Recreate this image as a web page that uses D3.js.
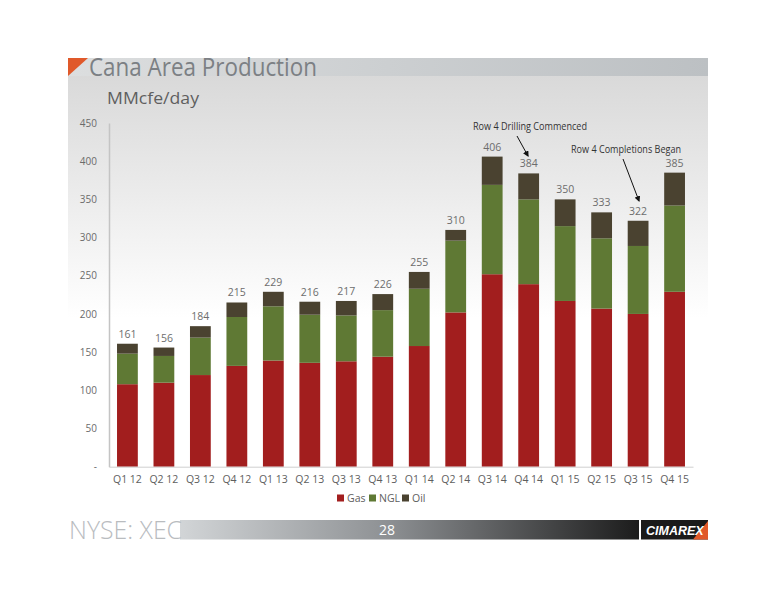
<!DOCTYPE html>
<html>
<head>
<meta charset="utf-8">
<script src="https://cdn.jsdelivr.net/npm/d3@7"></script>
<style>
  html, body { margin: 0; padding: 0; background: #fff; }
  svg { display: block; font-family: 'Open Sans', 'Noto Sans', sans-serif; }
</style>
</head>
<body>
<svg id="chart" width="776" height="600"></svg>
<script>
// Cana Area production by quarter, stacked Gas / NGL / Oil (MMcfe/day)
const quarters = ['Q1 12', 'Q2 12', 'Q3 12', 'Q4 12', 'Q1 13', 'Q2 13', 'Q3 13', 'Q4 13',
                  'Q1 14', 'Q2 14', 'Q3 14', 'Q4 14', 'Q1 15', 'Q2 15', 'Q3 15', 'Q4 15'];
const gas = [108, 110, 120, 132, 139, 136, 138, 144, 158, 202, 252, 239, 217, 207, 200, 229];
const ngl = [40, 35, 49, 64, 71, 63, 60, 61, 75, 94, 117, 111, 98, 92, 89, 113];
const oil = [13, 11, 15, 19, 19, 17, 19, 21, 22, 14, 37, 34, 35, 34, 33, 43];
const totals = [161, 156, 184, 215, 229, 216, 217, 226, 255, 310, 406, 384, 350, 333, 322, 385];
const seriesNames = ['Gas', 'NGL', 'Oil'];
const yTicks = [0, 50, 100, 150, 200, 250, 300, 350, 400, 450];

const COLORS = { Gas: '#a21e1e', NGL: '#5f7934', Oil: '#4a4230' };

const svg = d3.select('#chart');
const defs = svg.append('defs');

// --- slide background ---
const panelGrad = defs.append('linearGradient').attr('id', 'panel')
  .attr('x1', 0).attr('y1', 0).attr('x2', 0).attr('y2', 1);
panelGrad.append('stop').attr('offset', '0%').attr('stop-color', '#d9d9d9');
panelGrad.append('stop').attr('offset', '55%').attr('stop-color', '#ffffff');
panelGrad.append('stop').attr('offset', '100%').attr('stop-color', '#ffffff');

const headGrad = defs.append('linearGradient').attr('id', 'head')
  .attr('x1', 0).attr('y1', 0).attr('x2', 1).attr('y2', 0);
headGrad.append('stop').attr('offset', '0%').attr('stop-color', '#dcdedf');
headGrad.append('stop').attr('offset', '100%').attr('stop-color', '#bcc0c3');

const footGrad = defs.append('linearGradient').attr('id', 'foot')
  .attr('x1', 0).attr('y1', 0).attr('x2', 1).attr('y2', 0);
footGrad.append('stop').attr('offset', '0%').attr('stop-color', '#d2d5d7');
footGrad.append('stop').attr('offset', '45%').attr('stop-color', '#8e9194');
footGrad.append('stop').attr('offset', '100%').attr('stop-color', '#1c1c1c');

svg.append('rect').attr('x', 68).attr('y', 76).attr('width', 640).attr('height', 440)
  .attr('fill', 'url(#panel)');
svg.append('rect').attr('x', 68).attr('y', 58).attr('width', 640).attr('height', 18)
  .attr('fill', 'url(#head)');
svg.append('path').attr('d', 'M68,58 L88,58 L68,76 Z').attr('fill', '#e0592a');

svg.append('text').attr('x', 89).attr('y', 76)
  .attr('textLength', 228).attr('lengthAdjust', 'spacingAndGlyphs')
  .style('font-size', '25px').style('fill', '#7c8084')
  .text('Cana Area Production');
svg.append('text').attr('x', 107).attr('y', 104)
  .attr('textLength', 92).attr('lengthAdjust', 'spacingAndGlyphs')
  .style('font-size', '17px').style('fill', '#5f5f5f')
  .text('MMcfe/day');

// --- chart ---
const x = d3.scaleBand().domain(quarters).range([109, 693]).paddingInner(0.43).paddingOuter(0.22);
const y = d3.scaleLinear().domain([0, 450]).range([466.7, 123]);

const rows = quarters.map((q, i) => ({ q, Gas: gas[i], NGL: ngl[i], Oil: oil[i] }));
const stacked = d3.stack().keys(seriesNames)(rows);

const g = svg.append('g');
g.selectAll('g.series').data(stacked).enter().append('g')
  .attr('fill', d => COLORS[d.key])
  .selectAll('rect').data(d => d).enter().append('rect')
  .attr('x', d => x(d.data.q))
  .attr('width', x.bandwidth())
  .attr('y', d => y(d[1]))
  .attr('height', d => y(d[0]) - y(d[1]));

// axes
const yAxis = svg.append('g').attr('transform', 'translate(109,0)')
  .call(d3.axisLeft(y).tickValues(yTicks).tickSize(0).tickPadding(12)
    .tickFormat(d => d === 0 ? '-' : d));
yAxis.select('.domain').attr('stroke', '#c4c4c4').attr('stroke-width', 1.5);
yAxis.selectAll('text').style('font-size', '10px').style('fill', '#6b6b6b')
  .style('font-family', "'Open Sans', sans-serif");

const xAxis = svg.append('g').attr('transform', `translate(0,${y(0)})`)
  .call(d3.axisBottom(x).tickSize(0).tickPadding(9));
xAxis.select('.domain').attr('stroke', '#cfcfcf').attr('stroke-width', 1);
xAxis.selectAll('text').style('font-size', '10.5px').style('fill', '#5e5e5e')
  .style('font-family', "'Open Sans', sans-serif");

// total labels
svg.append('g').selectAll('text').data(quarters).enter().append('text')
  .attr('x', d => x(d) + x.bandwidth() / 2)
  .attr('y', (d, i) => y(totals[i]) - 6)
  .attr('text-anchor', 'middle')
  .style('font-size', '10.5px').style('fill', '#6d6d6d')
  .text((d, i) => totals[i]);

// annotations
defs.append('marker').attr('id', 'arrow').attr('viewBox', '0 0 10 10')
  .attr('refX', 8).attr('refY', 5).attr('markerWidth', 6).attr('markerHeight', 6)
  .attr('orient', 'auto')
  .append('path').attr('d', 'M0,0 L10,5 L0,10 Z').attr('fill', '#111');

svg.append('text').attr('x', 473).attr('y', 130)
  .attr('textLength', 114).attr('lengthAdjust', 'spacingAndGlyphs')
  .style('font-size', '10px').style('fill', '#333').text('Row 4 Drilling Commenced');
svg.append('line').attr('x1', 517).attr('y1', 136).attr('x2', 528).attr('y2', 156)
  .attr('stroke', '#111').attr('stroke-width', 1).attr('marker-end', 'url(#arrow)');

svg.append('text').attr('x', 571).attr('y', 153)
  .attr('textLength', 110).attr('lengthAdjust', 'spacingAndGlyphs')
  .style('font-size', '10px').style('fill', '#333').text('Row 4 Completions Began');
svg.append('line').attr('x1', 623).attr('y1', 159).attr('x2', 639).attr('y2', 201)
  .attr('stroke', '#111').attr('stroke-width', 1).attr('marker-end', 'url(#arrow)');

// legend
const legendX = [337, 369, 402];
const leg = svg.append('g').selectAll('g').data(seriesNames).enter().append('g')
  .attr('transform', (d, i) => `translate(${legendX[i]},498)`);
leg.append('rect').attr('x', 0).attr('y', -3.5).attr('width', 7).attr('height', 7)
  .attr('fill', d => COLORS[d]);
leg.append('text').attr('x', 10).attr('y', 4)
  .style('font-size', '10.5px').style('fill', '#5e5e5e').text(d => d);

// --- footer ---
svg.append('rect').attr('x', 180).attr('y', 520).attr('width', 459).attr('height', 19.5)
  .attr('fill', 'url(#foot)');
svg.append('text').attr('x', 69).attr('y', 539)
  .attr('textLength', 113).attr('lengthAdjust', 'spacingAndGlyphs')
  .style('font-size', '26px').style('font-weight', 300).style('fill', '#b9bcbf')
  .text('NYSE: XEC');
svg.append('text').attr('x', 387).attr('y', 535).attr('text-anchor', 'middle')
  .style('font-size', '14px').style('fill', '#ffffff').text('28');
svg.append('rect').attr('x', 641).attr('y', 520).attr('width', 67).attr('height', 19.5)
  .attr('fill', '#1a1a1a');
svg.append('path').attr('d', 'M708,521 L708,539.5 L693,539.5 Z').attr('fill', '#e0592a');
svg.append('text').attr('x', 646).attr('y', 535)
  .style('font-size', '12.5px').style('font-weight', 700).style('font-style', 'italic')
  .style('fill', '#ffffff').style('font-family', "'Liberation Sans', Arial, sans-serif")
  .text('CIMAREX');
</script>
</body>
</html>
